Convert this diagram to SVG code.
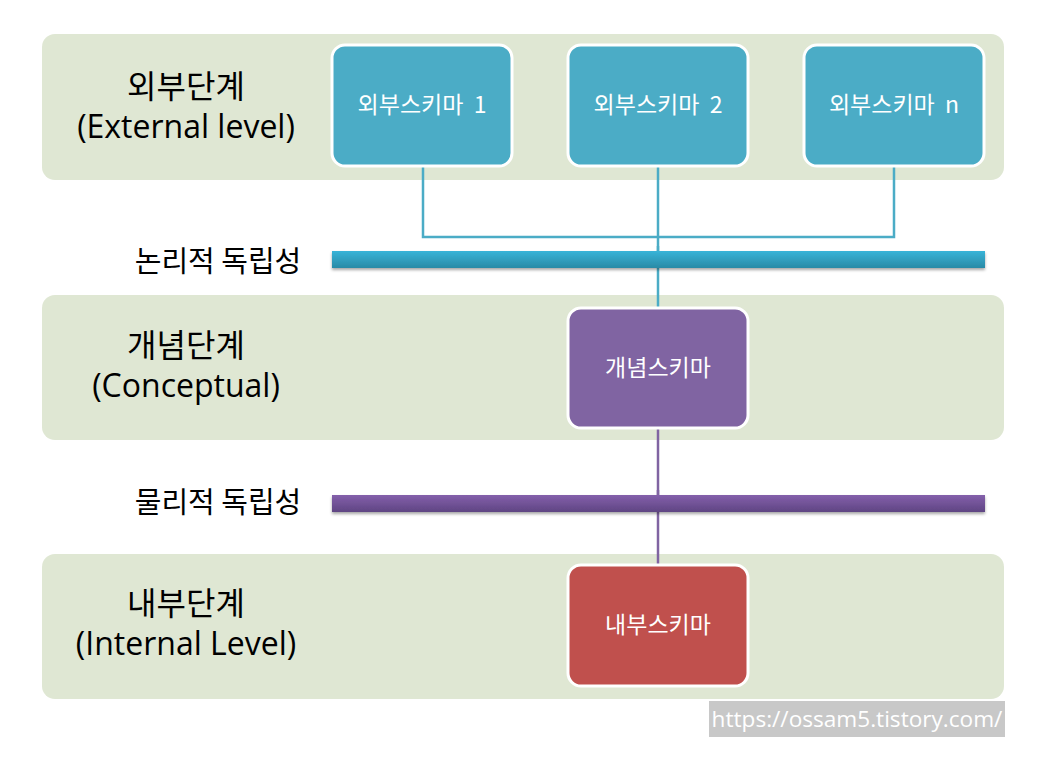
<svg xmlns="http://www.w3.org/2000/svg" width="1045" height="777" viewBox="0 0 1045 777">
<defs>
<linearGradient id="gBlue" x1="0" y1="0" x2="0" y2="1"><stop offset="0" stop-color="#38b4d8"/><stop offset="1" stop-color="#2a8aa6"/></linearGradient>
<linearGradient id="gPurple" x1="0" y1="0" x2="0" y2="1"><stop offset="0" stop-color="#8460ab"/><stop offset="1" stop-color="#5f4583"/></linearGradient>
<filter id="sh" x="-5%" y="-50%" width="110%" height="250%"><feDropShadow dx="0" dy="2" stdDeviation="1.5" flood-color="#000" flood-opacity="0.35"/></filter>
</defs>
<style>
.band{fill:#dfe7d3}
.box{stroke:#fff;stroke-width:3}
.blue{fill:#4bacc6}
.purple{fill:#8064a2}
.red{fill:#c0504d}
.ko{font-family:"Noto Sans CJK KR","Open Sans",sans-serif;font-size:32px;fill:#000;text-anchor:middle}
.en{font-family:"Open Sans","Noto Sans CJK KR",sans-serif;font-size:32px;fill:#000;text-anchor:middle}
.ind{font-family:"Noto Sans CJK KR","Open Sans",sans-serif;font-size:29px;fill:#000;text-anchor:middle}
.bt{font-family:"Noto Sans CJK KR","Open Sans",sans-serif;font-size:23px;fill:#fff;text-anchor:middle;white-space:pre}
.cb{stroke:#4bacc6;stroke-width:2.5;fill:none}
.cp{stroke:#8064a2;stroke-width:2.5;fill:none}
</style>
<rect class="band" x="42" y="34" width="962" height="146" rx="13"/>
<rect class="band" x="42" y="295" width="962" height="145" rx="13"/>
<rect class="band" x="42" y="554" width="962" height="145" rx="13"/>
<g id="connectors">
<polyline class="cb" points="423,166 423,237 894,237 894,166"/>
<line class="cb" x1="658" y1="166" x2="658" y2="308"/>
<line class="cp" x1="658" y1="428" x2="658" y2="565"/>
</g>
<rect x="332" y="251" width="653" height="17" fill="url(#gBlue)" filter="url(#sh)"/>
<rect x="332" y="495" width="653" height="17" fill="url(#gPurple)" filter="url(#sh)"/>
<line class="cb" x1="658" y1="246" x2="658" y2="251"/>
<line class="cp" x1="658" y1="490" x2="658" y2="495"/>
<g id="lbl-ext"><text class="ko" x="186" y="98">외부단계</text><text class="en" x="186" y="138">(External level)</text></g>
<g id="lbl-con"><text class="ko" x="186" y="357">개념단계</text><text class="en" x="186" y="397">(Conceptual)</text></g>
<g id="lbl-int"><text class="ko" x="186" y="615">내부단계</text><text class="en" x="186" y="655">(Internal Level)</text></g>
<text class="ind" x="218" y="272">논리적 독립성</text>
<text class="ind" x="218" y="513">물리적 독립성</text>
<g id="ext1"><rect class="box blue" x="332" y="45" width="180" height="121" rx="13"/><text class="bt" x="422" y="113">외부스키마  1</text></g>
<g id="ext2"><rect class="box blue" x="568" y="45" width="180" height="121" rx="13"/><text class="bt" x="658" y="113">외부스키마  2</text></g>
<g id="extn"><rect class="box blue" x="804" y="45" width="180" height="121" rx="13"/><text class="bt" x="894" y="113">외부스키마  n</text></g>
<g id="concept"><rect class="box purple" x="568" y="308" width="180" height="120" rx="13"/><text class="bt" x="658" y="376">개념스키마</text></g>
<g id="internal"><rect class="box red" x="568" y="565" width="180" height="121" rx="13"/><text class="bt" x="658" y="633">내부스키마</text></g>
<rect x="709" y="701" width="296" height="36" fill="#c8c8c8"/>
<text x="857" y="727" font-family="'Open Sans',sans-serif" font-size="22.6" fill="#fff" text-anchor="middle">https://ossam5.tistory.com/</text>
</svg>
